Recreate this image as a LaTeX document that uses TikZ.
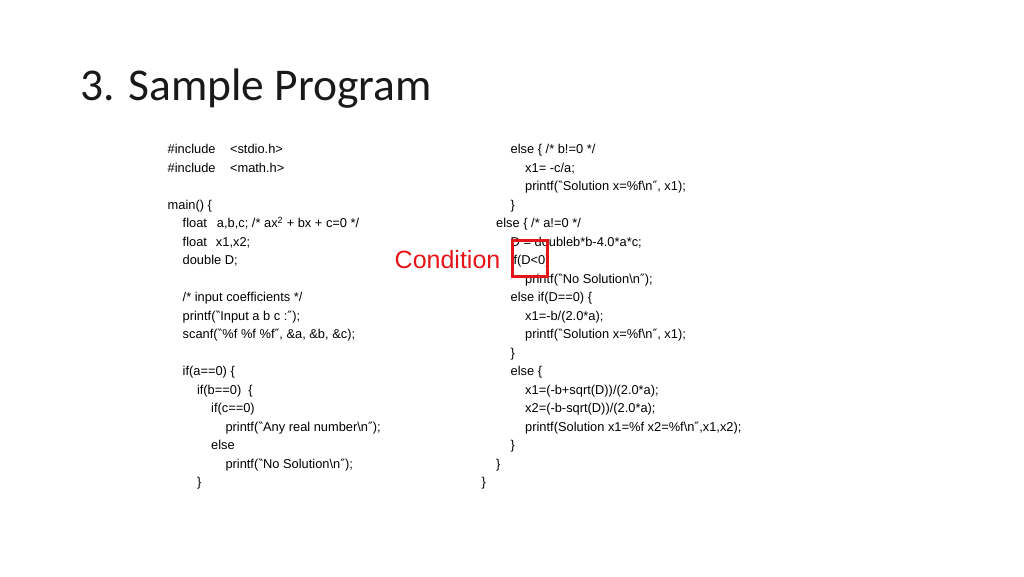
\documentclass[tikz,border=0pt]{standalone}
\usepackage{fontspec}
\setmainfont{Liberation Sans}
\newfontfamily\titlefont{Carlito}
\newfontfamily\quotefont{DejaVu Sans}
\usepackage{tikz}
\usetikzlibrary{positioning}

\definecolor{condred}{RGB}{228,20,24}
\newcommand{\oq}{{\quotefont ‶}}
\newcommand{\cq}{{\quotefont ″}}
\newcommand{\bs}{\textbackslash}

\tikzset{
    code/.style={anchor=base west, inner sep=0pt, font=\fontsize{12.85}{15}\selectfont},
}

\begin{document}
\begin{tikzpicture}[x=1pt, y=-1pt]

    \useasboundingbox (0,0) rectangle (1024,576);

    % Title
    \node [anchor=base west, inner sep=0pt, font=\titlefont\fontsize{45.5}{50}\selectfont, text=black!90] (title) at (80,100) {3. Sample Program};

    % Left column
    \node [code] (l0) at (167.5,153.5) {\#include\hspace*{14.5pt}<stdio.h>};
    \node [code] (l1) at (167.5,172) {\#include\hspace*{14.5pt}<math.h>};
    \node [code] (l3) at (167.5,209) {main() \{};
    \node [code] (l4) at (182.5,227.5) {float\hspace*{10pt}a,b,c; /* ax\textsuperscript{2} + bx + c=0 */};
    \node [code] (l5) at (182.5,246) {float\hspace*{9pt}x1,x2;};
    \node [code] (l6) at (182.5,264.5) {double D;};
    \node [code] (l8) at (182.5,301.5) {/* input coefficients */};
    \node [code] (l9) at (182.5,320) {printf(\oq Input a b c :\cq);};
    \node [code] (l10) at (182.5,338.5) {scanf(\oq\%f \%f \%f\cq, \&a, \&b, \&c);};
    \node [code] (l12) at (182.5,375.5) {if(a==0) \{};
    \node [code] (l13) at (196.8,394) {if(b==0)\ \ \{};
    \node [code] (l14) at (211,412.5) {if(c==0)};
    \node [code] (l15) at (225.3,431) {printf(\oq Any real number\bs n\cq);};
    \node [code] (l16) at (211,449.5) {else};
    \node [code] (l17) at (225.3,468) {printf(\oq No Solution\bs n\cq);};
    \node [code] (l18) at (196.8,486.5) {\}};

    % Right column
    \node [code] (r0) at (510.5,153.5) {else \{ /* b!=0 */};
    \node [code] (r1) at (525,172) {x1= -c/a;};
    \node [code] (r2) at (525,190.5) {printf(\oq Solution x=\%f\bs n\cq, x1);};
    \node [code] (r3) at (510.5,209) {\}};
    \node [code] (r4) at (496,227.5) {else \{ /* a!=0 */};
    \node [code] (r5) at (510.5,246) {D = doubleb*b-4.0*a*c;};
    \node [code] (r6) at (510.5,264.5) {if(D<0)};
    \node [code] (r7) at (525,283) {printf(\oq No Solution\bs n\cq);};
    \node [code] (r8) at (510.5,301.5) {else if(D==0) \{};
    \node [code] (r9) at (525,320) {x1=-b/(2.0*a);};
    \node [code] (r10) at (525,338.5) {printf(\oq Solution x=\%f\bs n\cq, x1);};
    \node [code] (r11) at (510.5,357) {\}};
    \node [code] (r12) at (510.5,375.5) {else \{};
    \node [code] (r13) at (525,394) {x1=(-b+sqrt(D))/(2.0*a);};
    \node [code] (r14) at (525,412.5) {x2=(-b-sqrt(D))/(2.0*a);};
    \node [code] (r15) at (525,431) {printf(Solution x1=\%f x2=\%f\bs n\cq,x1,x2);};
    \node [code] (r16) at (510.5,449.5) {\}};
    \node [code] (r17) at (496,468) {\}};
    \node [code] (r18) at (481.5,486.5) {\}};

    % Highlight
    \node [draw=condred, line width=2.3pt, minimum width=35pt, minimum height=36pt, inner sep=0pt] (condbox) at (530,258.5) {};
    \node [anchor=base west, inner sep=0pt, text=condred, font=\fontsize{25}{30}\selectfont] (cond) at (394.5,268.3) {Condition};

\end{tikzpicture}
\end{document}
